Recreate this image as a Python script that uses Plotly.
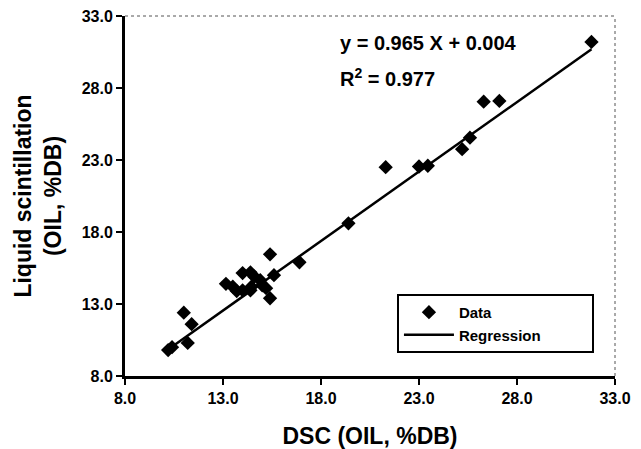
import plotly.graph_objects as go

# DSC (x) vs liquid scintillation (y), oil % dry basis
dsc = [10.2, 10.4, 11.2, 11.4, 11.0, 13.15, 13.5, 13.7, 14.0, 14.0, 14.4, 14.45, 14.4, 14.6,
       14.9, 15.0, 15.2, 15.4, 15.6, 15.4, 16.9, 19.4, 21.3, 23.0, 23.45, 25.2, 25.6,
       26.3, 27.1, 31.8]
ls = [9.8, 10.0, 10.3, 11.6, 12.4, 14.4, 14.2, 13.9, 13.95, 15.15, 15.2, 14.2, 13.95, 14.9,
      14.65, 14.3, 14.1, 13.4, 15.0, 16.45, 15.9, 18.6, 22.5, 22.55, 22.6, 23.75, 24.55,
      27.05, 27.1, 31.2]

slope = 0.965
intercept = 0.004
r2 = 0.977

tick_vals = [8, 13, 18, 23, 28, 33]
tick_text = ["<b>8.0</b>", "<b>13.0</b>", "<b>18.0</b>", "<b>23.0</b>", "<b>28.0</b>", "<b>33.0</b>"]

x_line = [min(dsc), max(dsc)]
y_line = [slope * v + intercept for v in x_line]

FONT = "Liberation Sans, Arial, sans-serif"
PAD = "\u00a0" * 11

fig = go.Figure()
fig.add_trace(go.Scatter(x=dsc, y=ls, mode="markers", name="Data",
                         marker=dict(symbol="diamond", size=11, color="black")))
fig.add_trace(go.Scatter(x=x_line, y=y_line, mode="lines", name="Regression" + PAD,
                         line=dict(color="black", width=2.5)))

axis_common = dict(range=[8, 33], tickvals=tick_vals, ticktext=tick_text, automargin=False,
                   ticklabeloverflow="allow",
                   showgrid=False, zeroline=False, showline=True, linecolor="black",
                   linewidth=3, ticks="outside", ticklen=6, tickwidth=2, tickcolor="black",
                   tickfont=dict(family=FONT, size=16, color="black"))

fig.update_xaxes(**axis_common,
                 title=dict(text="<b>DSC (OIL, %DB)</b>", standoff=24,
                            font=dict(family=FONT, size=23, color="black")))
fig.update_yaxes(**axis_common,
                 title=dict(text="<b>Liquid scintillation<br>(OIL, %DB)</b>", standoff=14,
                            font=dict(family=FONT, size=23, color="black")))

# dashed top and right frame
fig.add_shape(type="line", xref="paper", yref="paper", x0=0, x1=1, y0=1, y1=1,
              line=dict(color="#555", width=1, dash="dot"))
fig.add_shape(type="line", xref="paper", yref="paper", x0=1, x1=1, y0=0, y1=1,
              line=dict(color="#555", width=1, dash="dot"))

fig.add_annotation(x=18.85, y=31.1, xref="x", yref="y", xanchor="left",
                   text=f"<b>y = {slope} X + {intercept}</b>", showarrow=False,
                   font=dict(family=FONT, size=20, color="black"))
fig.add_annotation(x=18.85, y=28.75, xref="x", yref="y", xanchor="left",
                   text=f"<b>R<sup>2</sup> = {r2}</b>", showarrow=False,
                   font=dict(family=FONT, size=20, color="black"))

# page body has an 8px margin, so the figure is sized/offset to compensate
fig.update_layout(
    width=633, height=441,
    margin=dict(l=117, r=26, t=8, b=73),
    paper_bgcolor="white", plot_bgcolor="white",
    showlegend=True,
    legend=dict(x=0.555, y=0.228, xanchor="left", yanchor="top",
                bordercolor="black", borderwidth=2, bgcolor="white",
                itemwidth=50, tracegroupgap=0,
                font=dict(family=FONT, size=15, color="black", weight="bold")),
)

fig.write_html("out.html")
